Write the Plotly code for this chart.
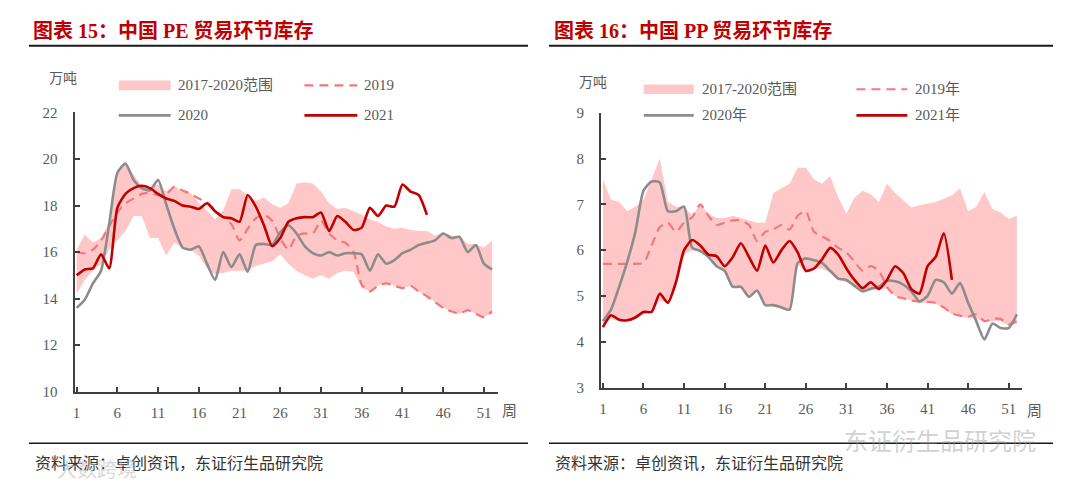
import plotly.graph_objects as go

W, H = 1080, 492

# ---------------- data ----------------
weeks = list(range(1, 53))
x_ticks = list(range(1, 52, 5))

# PE (left chart), unit: 万吨
pe_band_high = [16.1, 16.75, 16.4, 16.6, 17.3, 19.3, 19.8, 19.3, 18.85, 18.75,
                18.9, 18.6, 18.85, 18.6, 18.55, 18.1, 17.8, 17.4, 17.8, 18.7,
                18.7, 18.45, 18.2, 18.35, 18.05, 17.9, 18.1, 18.95, 19.0, 18.95,
                18.6, 18.1, 17.85, 17.9, 17.75, 17.6, 17.4, 17.3, 17.1, 17.0,
                17.05, 16.95, 16.9, 16.9, 16.7, 16.85, 16.7, 16.7, 16.35, 16.35,
                16.2, 16.5]
pe_band_low = [14.2, 14.8, 15.2, 15.5, 16.1, 16.5, 16.9, 17.55, 17.55, 16.6,
               16.6, 15.85, 16.4, 16.2, 16.1, 15.85, 15.3, 15.05, 15.1, 15.2,
               15.2, 15.2, 15.4, 15.5, 15.6, 15.9, 15.5, 15.2, 15.0, 14.85,
               15.0, 14.85, 15.1, 15.2, 15.15, 14.45, 14.3, 14.55, 14.65, 14.55,
               14.45, 14.55, 14.3, 14.1, 13.85, 13.6, 13.45, 13.35, 13.5, 13.35,
               13.2, 13.4]
pe_2019 = [16.0, 15.95, 16.1, 16.5, 17.1, 17.7, 18.1, 18.3, 18.5, 18.55,
           18.45, 18.5, 18.8, 18.65, 18.5, 18.3, 18.15, 17.8, 17.5, 17.2,
           16.5, 17.0, 17.45, 17.6, 17.35, 16.6, 16.1, 16.7, 16.8, 16.8,
           17.35, 16.8, 16.5, 16.4, 16.0, 14.6, 14.3, 14.55, 14.65, 14.55,
           14.45, 14.55, 14.3, 14.1, 13.85, 13.6, 13.45, 13.35, 13.5, 13.35,
           13.2, 13.45]
pe_2020 = [13.6, 13.95, 14.65, 15.2, 17.2, 19.4, 19.8, 19.1, 18.75, 18.65,
           19.1, 18.05, 17.0, 16.2, 16.1, 16.25, 15.5, 14.8, 16.0, 15.35,
           15.9, 15.15, 16.3, 16.35, 16.3, 16.85, 17.15, 16.8, 16.25, 15.95,
           15.85, 16.0, 15.85, 15.95, 15.95, 15.9, 15.2, 15.9, 15.5, 15.65,
           15.95, 16.1, 16.3, 16.4, 16.5, 16.8, 16.6, 16.65, 16.0, 16.3,
           15.5, 15.25]
pe_2021 = [15.0, 15.25, 15.3, 15.9, 15.3, 17.9, 18.5, 18.75, 18.85, 18.75,
           18.5, 18.3, 18.2, 18.0, 17.95, 17.85, 18.1, 17.75, 17.5, 17.45,
           17.3, 18.45, 17.95, 17.15, 16.25, 16.6, 17.3, 17.45, 17.5, 17.5,
           17.7, 16.9, 17.55, 17.3, 16.95, 17.05, 17.9, 17.55, 18.0, 17.95,
           18.9, 18.6, 18.45, 17.6]

# PP (right chart), unit: 万吨
pp_band_high = [7.55, 7.1, 7.05, 6.85, 6.95, 7.1, 7.55, 8.0, 7.05, 6.95,
                6.95, 6.75, 7.0, 6.8, 6.7, 6.7, 6.75, 6.7, 6.65, 6.6,
                6.6, 7.25, 7.35, 7.45, 7.8, 7.8, 7.55, 7.45, 7.62, 7.15,
                6.8, 7.15, 7.3, 7.22, 7.05, 7.45, 7.25, 7.08, 6.93, 6.98,
                7.02, 7.05, 7.12, 7.2, 7.35, 6.85, 6.95, 7.27, 6.9, 6.82,
                6.68, 6.75]
pp_band_low = [4.35, 4.5, 4.45, 4.45, 4.5, 4.6, 4.65, 4.9, 4.85, 5.2,
               5.9, 6.0, 5.98, 5.85, 5.65, 5.55, 5.2, 5.2, 4.98, 5.12,
               4.8, 4.8, 4.75, 4.7, 5.7, 5.5, 5.6, 5.6, 5.5, 5.35,
               5.3, 5.2, 5.08, 5.12, 5.15, 5.15, 5.0, 4.95, 4.9, 4.85,
               4.85, 4.83, 4.72, 4.6, 4.55, 4.53, 4.5, 4.45, 4.45, 4.45,
               4.35, 4.4]
pp_2019 = [5.7, 5.7, 5.7, 5.7, 5.7, 5.72, 6.1, 6.5, 6.6, 6.4,
           6.6, 6.72, 7.0, 6.75, 6.55, 6.6, 6.65, 6.65, 6.55, 6.2,
           6.4, 6.45, 6.55, 6.45, 6.75, 6.85, 6.4, 6.3, 6.2, 6.05,
           5.95, 5.75, 5.55, 5.65, 5.55, 5.2, 5.0, 4.95, 4.9, 4.88,
           4.87, 4.85, 4.75, 4.62, 4.57, 4.55, 4.6, 4.45, 4.5, 4.5,
           4.38, 4.45]
pp_2020 = [4.45, 4.7, 5.2, 5.75, 6.4, 7.3, 7.5, 7.48, 6.85, 6.85,
           6.95, 6.05, 5.98, 5.85, 5.65, 5.55, 5.2, 5.2, 4.98, 5.12,
           4.8, 4.8, 4.75, 4.7, 5.72, 5.82, 5.78, 5.72, 5.55, 5.38,
           5.35, 5.22, 5.1, 5.16, 5.2, 5.33, 5.32, 5.25, 5.1, 4.88,
           5.0, 5.35, 5.3, 5.05, 5.28, 4.85, 4.45, 4.05, 4.4, 4.3,
           4.3, 4.6]
pp_2021 = [4.32, 4.58, 4.48, 4.47, 4.53, 4.65, 4.65, 5.05, 4.85, 5.3,
           6.0, 6.22, 6.1, 5.9, 5.87, 5.65, 5.85, 6.15, 5.85, 5.55,
           6.1, 5.73, 6.0, 6.2, 5.95, 5.55, 5.6, 5.8, 6.05, 5.9,
           5.6, 5.35, 5.17, 5.3, 5.15, 5.35, 5.65, 5.5, 5.15, 5.05,
           5.65, 5.85, 6.37, 5.35]

# ---------------- styles ----------------
RED = "#C00000"
GRAY = "#8C8C8C"
DASH = "#F4777C"
PINK = "#FFC7C7"
TXT = "#595959"
AX = "#404040"
SERIF = "Liberation Serif, Noto Sans CJK SC, serif"
CJK = "Noto Sans CJK SC, sans-serif"


def P(x, y):
    return x / W, 1 - y / H


fig = go.Figure()


def add_chart(xa, ya, low, high, s19, s20, s21):
    fig.add_trace(go.Scatter(x=weeks, y=low, xaxis=xa, yaxis=ya, mode="lines",
                             line=dict(width=0, color=PINK), showlegend=False,
                             hoverinfo="skip"))
    fig.add_trace(go.Scatter(x=weeks, y=high, xaxis=xa, yaxis=ya, mode="lines",
                             line=dict(width=0, color=PINK), fill="tonexty",
                             fillcolor=PINK, showlegend=False, hoverinfo="skip"))
    fig.add_trace(go.Scatter(x=weeks, y=s19, xaxis=xa, yaxis=ya, mode="lines",
                             line=dict(color=DASH, width=2.2, dash="9px,6px",
                                       shape="spline", smoothing=0.6),
                             showlegend=False))
    fig.add_trace(go.Scatter(x=weeks, y=s20, xaxis=xa, yaxis=ya, mode="lines",
                             line=dict(color=GRAY, width=2.6, shape="spline",
                                       smoothing=0.6),
                             showlegend=False))
    fig.add_trace(go.Scatter(x=weeks[:len(s21)], y=s21, xaxis=xa, yaxis=ya,
                             mode="lines",
                             line=dict(color=RED, width=2.6, shape="spline",
                                       smoothing=0.6),
                             showlegend=False))


add_chart("x", "y", pe_band_low, pe_band_high, pe_2019, pe_2020, pe_2021)
add_chart("x2", "y2", pp_band_low, pp_band_high, pp_2019, pp_2020, pp_2021)

axis_common = dict(showline=True, linecolor=AX, linewidth=2, ticks="inside",
                   ticklen=5, tickwidth=1.5, tickcolor=AX, showgrid=False,
                   zeroline=False, tickfont=dict(family=SERIF, size=15, color=TXT))

fig.update_layout(
    width=W, height=H,
    margin=dict(l=0, r=0, t=0, b=0),
    paper_bgcolor="white", plot_bgcolor="white",
    showlegend=False,
    xaxis=dict(domain=[72.7 / W, 496.7 / W], range=[0.75, 52.7], tickvals=x_ticks,
               anchor="y", ticklabelstandoff=6, **axis_common),
    yaxis=dict(domain=[1 - 396.5 / H, 1 - 108 / H], range=[10, 22], dtick=2,
               anchor="x", ticklabelstandoff=12, **axis_common),
    xaxis2=dict(domain=[600 / W, 1022 / W], range=[0.75, 52.65], tickvals=x_ticks,
                anchor="y2", ticklabelstandoff=6, **axis_common),
    yaxis2=dict(domain=[1 - 392.3 / H, 1 - 108.3 / H], range=[3, 9], dtick=1,
                anchor="x2", ticklabelstandoff=12, **axis_common),
)

shapes = []
annotations = []


def hline(x0, x1, y, color, width, dash=None):
    a, b = P(x0, y)
    c, _ = P(x1, y)
    ln = dict(color=color, width=width)
    if dash:
        ln["dash"] = dash
    shapes.append(dict(type="line", xref="paper", yref="paper", x0=a, x1=c,
                       y0=b, y1=b, line=ln))


def rect(x0, y0, x1, y1, color):
    a, b = P(x0, y0)
    c, d = P(x1, y1)
    shapes.append(dict(type="rect", xref="paper", yref="paper", x0=a, x1=c,
                       y0=d, y1=b, fillcolor=color, line=dict(width=0)))


def text(x, y, s, size, color, family=SERIF, xanchor="left"):
    a, b = P(x, y)
    annotations.append(dict(xref="paper", yref="paper", x=a, y=b, text=s,
                            showarrow=False, xanchor=xanchor, yanchor="middle",
                            font=dict(family=family, size=size, color=color)))


# titles and rules
text(29, 23.5, "<b>图表 15：中国 PE 贸易环节库存</b>", 20, RED)
text(551, 23.5, "<b>图表 16：中国 PP 贸易环节库存</b>", 20, RED)
hline(27, 527, 39, "#1a1a1a", 2)
hline(548, 1053, 39, "#1a1a1a", 2)
hline(27, 527, 450, "#1a1a1a", 1.5)
hline(548, 1053, 450, "#1a1a1a", 1.5)
text(31, 469, "资料来源：卓创资讯，东证衍生品研究院", 16, "#333333", CJK)
text(552, 469, "资料来源：卓创资讯，东证衍生品研究院", 16, "#333333", CJK)

# unit labels and week labels
text(61, 71, "万吨", 14, TXT, CJK, "center")
text(592, 75, "万吨", 14, TXT, CJK, "center")
text(508, 415, "周", 15, TXT, CJK, "center")
text(1034, 415, "周", 15, TXT, CJK, "center")

# left legend
rect(117, 75, 169, 85, PINK)
text(174, 80, "2017-2020范围", 15, TXT)
hline(303, 356, 80, DASH, 2.2, "9px,6px")
text(361, 80, "2019", 15, TXT)
hline(117, 169, 111, GRAY, 2.6)
text(174, 111, "2020", 15, TXT)
hline(303, 356, 111, RED, 2.6)
text(361, 111, "2021", 15, TXT)

# right legend
rect(643, 79, 693, 89, PINK)
text(699, 84, "2017-2020范围", 15, TXT)
hline(856, 907, 84, DASH, 2.2, "9px,6px")
text(913, 84, "2019年", 15, TXT)
hline(643, 693, 111, GRAY, 2.6)
text(699, 111, "2020年", 15, TXT)
hline(856, 907, 111, RED, 2.6)
text(913, 111, "2021年", 15, TXT)

# watermarks
text(940, 446, "东证衍生品研究院", 24, "rgba(150,150,150,0.45)", CJK, "center")
text(95, 476, "大数跨境", 20, "rgba(190,190,190,0.6)", CJK, "center")

fig.update_layout(shapes=shapes, annotations=annotations)
fig.write_html("out.html",
               config={"displayModeBar": False},
               post_script="document.body.style.margin='0';")
